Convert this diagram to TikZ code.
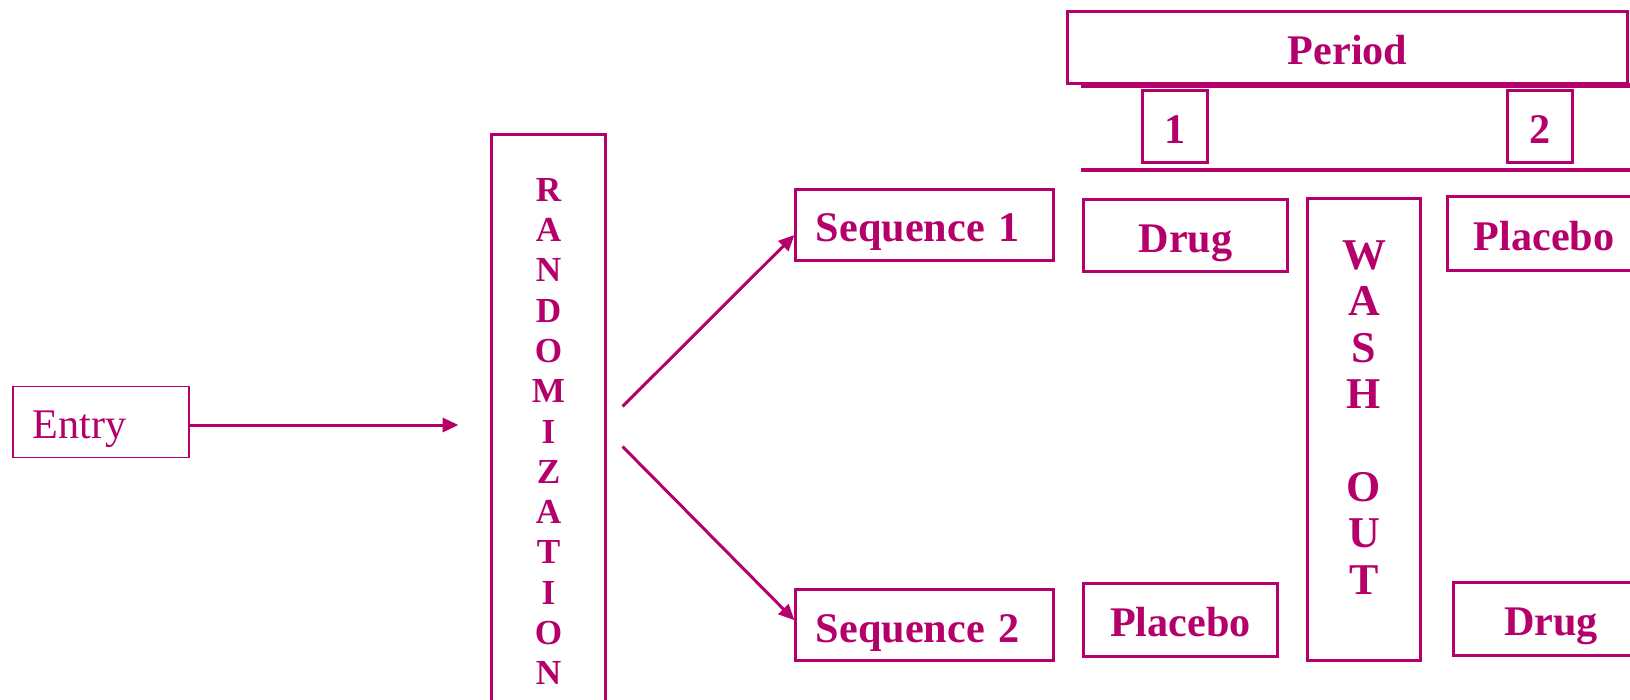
\documentclass[tikz,border=0pt]{standalone}
\usepackage{fontspec}
\setmainfont{Liberation Serif}
\usetikzlibrary{positioning, arrows.meta}
\definecolor{berry}{RGB}{181,0,107}
\tikzstyle{entrybox} = [rectangle, draw=berry, line width=0.5pt, text=berry, minimum width=1.76cm, minimum height=0.71cm, text width=1.36cm, inner xsep=0.2cm, inner ysep=0pt, text height=9.6pt, text depth=0pt, align=left, font=\fontsize{12}{14}\selectfont]
\tikzstyle{box} = [rectangle, draw=berry, line width=0.85pt, text=berry, inner sep=0pt, text height=10.5pt, text depth=0.85pt, font=\bfseries\fontsize{12}{14}\selectfont]
\tikzstyle{seqbox} = [box, minimum width=2.57cm, minimum height=0.71cm, text width=2.17cm, inner xsep=0.2cm, align=left]
\tikzstyle{numbox} = [box, minimum width=0.65cm, minimum height=0.71cm]
\tikzstyle{armbox} = [box, minimum height=0.72cm]
\tikzstyle{vtext} = [text=berry, align=center, inner sep=0pt]
\tikzstyle{rule} = [draw=berry, line width=1pt]
\tikzstyle{arrow} = [draw=berry, line width=0.85pt, -{Triangle[length=4.5pt,width=4pt]}]

\begin{document}
\begin{tikzpicture}[x=0.01cm, y=-0.01cm, node distance=4cm]
    \useasboundingbox (0,0) rectangle (1630,700);
    \node (entry) [entrybox] at (101,422) {Entry};
    \node (rand) [box, minimum width=1.13cm, minimum height=5.93cm, align=center, text height=, text depth=, font=\bfseries\fontsize{10}{11.45}\selectfont] at (548.5,431.5) {R\\A\\N\\D\\O\\M\\I\\Z\\A\\T\\I\\O\\N};
    \node (seq1) [seqbox] at (924.5,225) {Sequence 1};
    \node (seq2) [seqbox, below of=seq1] {Sequence 2};

    % period header
    \node (period) [box, minimum width=5.59cm, minimum height=0.71cm] at (1347.5,47.5) {Period};
    \node (one) [numbox] at (1175,126.5) {1};
    \node (two) [numbox, right of=one, xshift=-0.355cm] {2};
    \coordinate (sh1) at (1081,85.5);
    \coordinate (sh2) at (1630,85.5);
    \coordinate (hl1) at (1081,170);
    \coordinate (hl2) at (1630,170);

    % treatment arms
    \node (drugA) [armbox, minimum width=2.03cm, minimum height=0.71cm] at (1185.5,235.5) {Drug};
    \node (placA) [armbox, minimum width=1.93cm] at (1180.5,620) {Placebo};
    \node (washout) [box, minimum width=1.12cm, minimum height=4.61cm] at (1364,429.5) {};
    \node (washtext) [vtext, font=\bfseries\fontsize{12.5}{13.2}\selectfont] at ([yshift=0.12cm]washout.center) {W\\A\\S\\H\\\mbox{}\\O\\U\\T};
    \node (placB) [armbox, minimum width=1.92cm, minimum height=0.73cm] at (1544,233.5) {Placebo};
    \node (drugB) [armbox, minimum width=1.94cm] at (1551,619) {Drug};

    \coordinate (rs1) at ([xshift=0.16cm, yshift=0.25cm]rand.east);
    \coordinate (rs2) at ([xshift=0.16cm, yshift=-0.15cm]rand.east);

    \draw [arrow, shorten >=0.32cm] ([yshift=-0.03cm]entry.east) -- ([yshift=-0.03cm]entry.east -| rand.west);
    \draw [arrow] (rs1) -- ([yshift=-0.1cm]seq1.west);
    \draw [arrow] (rs2) -- ([yshift=0.05cm]seq2.west);
    \draw [rule, line width=1.3pt] (sh1) -- (sh2);
    \draw [rule] (hl1) -- (hl2);
\end{tikzpicture}
\end{document}
